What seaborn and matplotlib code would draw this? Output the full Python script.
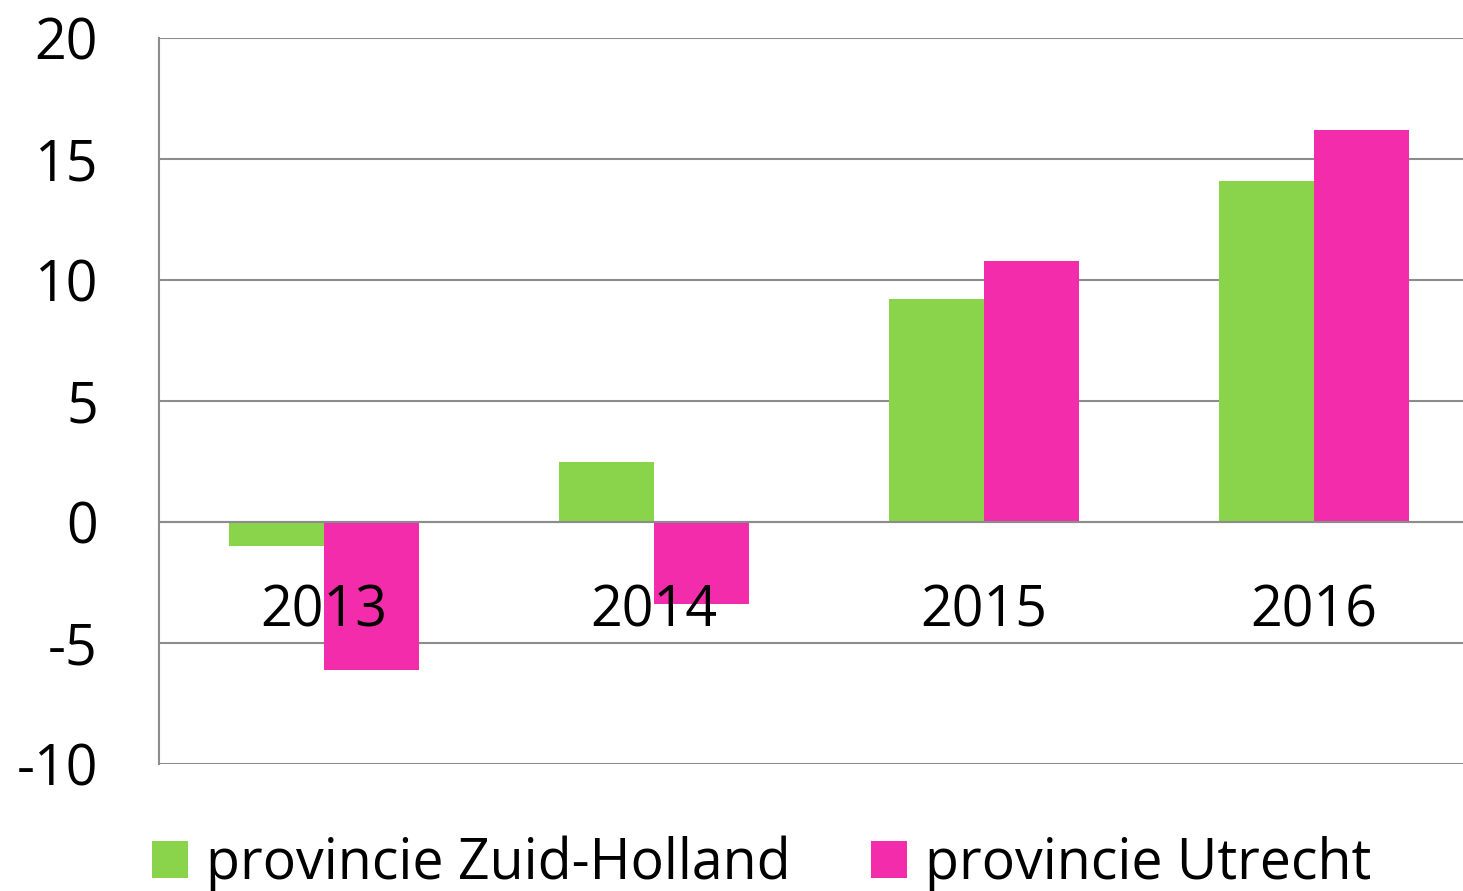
import pandas as pd
import matplotlib.pyplot as plt
import seaborn as sns
from matplotlib.ticker import FixedLocator

# --- data ---
years = ['2013', '2014', '2015', '2016']
zuid_holland = [-1.0, 2.5, 9.2, 14.1]
utrecht = [-6.1, -3.4, 10.8, 16.2]
series_names = ['provincie Zuid-Holland', 'provincie Utrecht']
colors = ['#8AD44B', '#F22CAA']

df = pd.DataFrame({
    'jaar': years * 2,
    'waarde': zuid_holland + utrecht,
    'provincie': [series_names[0]] * 4 + [series_names[1]] * 4,
})

sns.set_style('white')
plt.rcParams['font.family'] = ['Open Sans', 'DejaVu Sans']
plt.rcParams['axes.unicode_minus'] = False
plt.rcParams['text.color'] = 'black'
grey = '#8c8c8c'

fig = plt.figure(figsize=(14.63, 8.91), dpi=100)
ax = fig.add_axes([0.1087, 0.1425, 0.9023, 0.8149])

sns.barplot(data=df, x='jaar', y='waarde', hue='provincie', palette=colors,
            width=0.576, linewidth=0, saturation=1, ax=ax)

ax.set_xlim(-0.5, 3.5)
ax.set_ylim(-10, 20)
ax.set_yticks(range(-10, 21, 5))
ax.yaxis.grid(True, color=grey, linewidth=1.5)
ax.set_axisbelow(True)
ax.xaxis.set_zorder(5)  # jaartallen over de balken
ax.set_xlabel('')
ax.set_ylabel('')

for s in ['top', 'right']:
    ax.spines[s].set_visible(False)
ax.spines['left'].set_color(grey)
ax.spines['left'].set_linewidth(1.5)
ax.spines['bottom'].set_position(('data', 0))
ax.spines['bottom'].set_color(grey)
ax.spines['bottom'].set_linewidth(1.5)

ax.tick_params(axis='y', length=15, width=1.5, color=grey, pad=29, labelsize=40,
               labelcolor='black')
ax.tick_params(axis='x', which='major', length=0, pad=44, labelsize=40,
               labelcolor='black')
ax.xaxis.set_minor_locator(FixedLocator([-0.5, 0.5, 1.5, 2.5]))
ax.tick_params(axis='x', which='minor', length=15, width=1.5, color=grey)

handles, labels = ax.get_legend_handles_labels()
ax.get_legend().remove()
fig.legend(handles, labels, loc='lower left', bbox_to_anchor=(0.104, -0.002),
           ncol=2, frameon=False, fontsize=40, handlelength=0.64, handleheight=0.64,
           handletextpad=0.33, columnspacing=1.45, borderpad=0, borderaxespad=0,
           labelcolor='black')

fig.savefig('out.png', dpi=100)
